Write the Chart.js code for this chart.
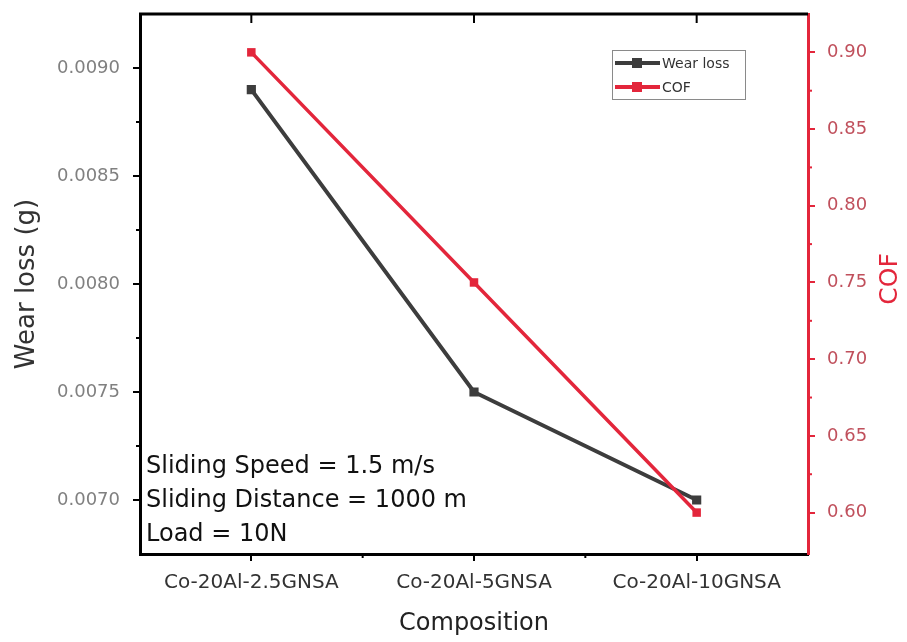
<!DOCTYPE html>
<html>
<head>
<meta charset="utf-8">
<script src="https://cdn.jsdelivr.net/npm/chart.js@4.4.1/dist/chart.umd.min.js"></script>
<style>
  html, body { margin: 0; padding: 0; background: #fff; }
</style>
</head>
<body>
<canvas id="wearChart" width="907" height="642"></canvas>
<script>
const categories = ['Co-20Al-2.5GNSA', 'Co-20Al-5GNSA', 'Co-20Al-10GNSA'];
const wearLoss = [0.0089, 0.0075, 0.0070];
const cof = [0.90, 0.75, 0.60];
const wearTicks = [0.0070, 0.0075, 0.0080, 0.0085, 0.0090];
const cofTicks = [0.60, 0.65, 0.70, 0.75, 0.80, 0.85, 0.90];
const notes = ['Sliding Speed = 1.5 m/s', 'Sliding Distance = 1000 m', 'Load = 10N'];

const FONT = '"DejaVu Sans", sans-serif';
const RED = '#e3263b';
const DARK = '#3d3d3d';

// frame, minor ticks, legend, notes, right title
const decor = {
    id: 'decor',
    afterDraw(chart) {
        const ctx = chart.ctx;
        const a = chart.chartArea;
        const x = chart.scales.x, y = chart.scales.y, y1 = chart.scales.y1;
        ctx.save();

        // top border + inward ticks
        ctx.strokeStyle = '#000';
        ctx.lineWidth = 3;
        ctx.beginPath();
        ctx.moveTo(a.left - 1, a.top);
        ctx.lineTo(a.right, a.top);
        ctx.stroke();
        ctx.lineWidth = 2;
        categories.forEach(function (c, i) {
            const px = x.getPixelForValue(i);
            ctx.beginPath();
            ctx.moveTo(px, a.top);
            ctx.lineTo(px, a.top + 9);
            ctx.stroke();
        });

        // minor ticks
        for (let i = 0; i < categories.length - 1; i++) {
            const px = (x.getPixelForValue(i) + x.getPixelForValue(i + 1)) / 2;
            ctx.beginPath();
            ctx.moveTo(px, a.bottom);
            ctx.lineTo(px, a.bottom + 4);
            ctx.stroke();
        }
        for (let i = 0; i < wearTicks.length - 1; i++) {
            const py = y.getPixelForValue((wearTicks[i] + wearTicks[i + 1]) / 2);
            ctx.beginPath();
            ctx.moveTo(a.left, py);
            ctx.lineTo(a.left - 4, py);
            ctx.stroke();
        }
        ctx.strokeStyle = RED;
        for (let i = 0; i < cofTicks.length - 1; i++) {
            const py = y1.getPixelForValue((cofTicks[i] + cofTicks[i + 1]) / 2);
            ctx.beginPath();
            ctx.moveTo(a.right, py);
            ctx.lineTo(a.right + 4, py);
            ctx.stroke();
        }

        // legend box
        const lx = a.right - 196, ly = a.top + 36, lw = 133, lh = 49;
        ctx.fillStyle = '#fff';
        ctx.fillRect(lx, ly, lw, lh);
        ctx.strokeStyle = '#8a8a8a';
        ctx.lineWidth = 1;
        ctx.strokeRect(lx + 0.5, ly + 0.5, lw, lh);
        ctx.font = '14px ' + FONT;
        ctx.textBaseline = 'middle';
        ctx.textAlign = 'left';
        chart.data.datasets.forEach(function (ds, i) {
            const yy = ly + 13 + i * 24;
            ctx.strokeStyle = ds.borderColor;
            ctx.lineWidth = 4;
            ctx.beginPath();
            ctx.moveTo(lx + 3, yy);
            ctx.lineTo(lx + 48, yy);
            ctx.stroke();
            ctx.fillStyle = ds.borderColor;
            ctx.fillRect(lx + 20, yy - 5, 10, 10);
            ctx.fillStyle = '#333';
            ctx.fillText(ds.label, lx + 50, yy + 1);
        });

        // notes
        ctx.fillStyle = '#111';
        ctx.font = '24px ' + FONT;
        ctx.textBaseline = 'alphabetic';
        notes.forEach(function (t, i) {
            ctx.fillText(t, a.left + 6, a.bottom - 81 + i * 34);
        });

        // right axis title (bottom to top)
        ctx.translate(890, (a.top + a.bottom) / 2 - 5);
        ctx.rotate(-Math.PI / 2);
        ctx.fillStyle = RED;
        ctx.font = '25px ' + FONT;
        ctx.textAlign = 'center';
        ctx.textBaseline = 'middle';
        ctx.fillText('COF', 0, 0);
        ctx.restore();
    }
};

function noPad(s) {
    s.paddingTop = 0;
    s.paddingBottom = 0;
    s.paddingLeft = 0;
    s.paddingRight = 0;
}

new Chart(document.getElementById('wearChart'), {
    type: 'line',
    data: {
        labels: categories,
        datasets: [{
            label: 'Wear loss',
            data: wearLoss,
            yAxisID: 'y',
            order: 1,
            borderColor: DARK,
            backgroundColor: DARK,
            borderWidth: 4,
            pointStyle: 'rect',
            pointRadius: 6.5,
            pointBorderWidth: 0,
            tension: 0
        }, {
            label: 'COF',
            data: cof,
            yAxisID: 'y1',
            order: 0,
            borderColor: RED,
            backgroundColor: RED,
            borderWidth: 3.5,
            pointStyle: 'rect',
            pointRadius: 6,
            pointBorderWidth: 0,
            tension: 0
        }]
    },
    options: {
        responsive: false,
        animation: false,
        layout: { padding: { top: 14, left: 0, right: 0, bottom: 0 } },
        plugins: {
            legend: { display: false },
            tooltip: { enabled: false }
        },
        scales: {
            x: {
                offset: true,
                afterFit: function (s) { s.height = 88; noPad(s); },
                border: { color: '#000', width: 3 },
                grid: { display: true, drawOnChartArea: false, tickLength: 7, color: '#000', lineWidth: 2, offset: false },
                ticks: { color: '#333', padding: 10, maxRotation: 0, font: { family: FONT, size: 20 } },
                title: { display: true, text: 'Composition', color: '#222', padding: { top: 0, bottom: 4 }, font: { family: FONT, size: 24 } }
            },
            y: {
                position: 'left',
                min: 0.00675,
                max: 0.00925,
                afterFit: function (s) { s.width = 140; noPad(s); },
                afterBuildTicks: function (s) { s.ticks = wearTicks.map(function (v) { return { value: v }; }); },
                border: { color: '#000', width: 3 },
                grid: { drawOnChartArea: false, tickLength: 7, color: '#000', lineWidth: 2 },
                ticks: {
                    color: '#808080',
                    padding: 13,
                    font: { family: FONT, size: 18 },
                    callback: function (v) { return v.toFixed(4); }
                },
                title: { display: true, text: 'Wear loss (g)', color: '#333', padding: { top: 12, bottom: 0 }, font: { family: FONT, size: 26 } }
            },
            y1: {
                position: 'right',
                min: 0.573,
                max: 0.925,
                afterFit: function (s) { s.width = 99; noPad(s); },
                afterBuildTicks: function (s) { s.ticks = cofTicks.map(function (v) { return { value: v }; }); },
                border: { color: RED, width: 3 },
                grid: { drawOnChartArea: false, tickLength: 7, color: RED, lineWidth: 2 },
                ticks: {
                    color: '#c0505c',
                    padding: 12,
                    font: { family: FONT, size: 18 },
                    callback: function (v) { return v.toFixed(2); }
                },
                title: { display: false }
            }
        }
    },
    plugins: [decor]
});
</script>
</body>
</html>
